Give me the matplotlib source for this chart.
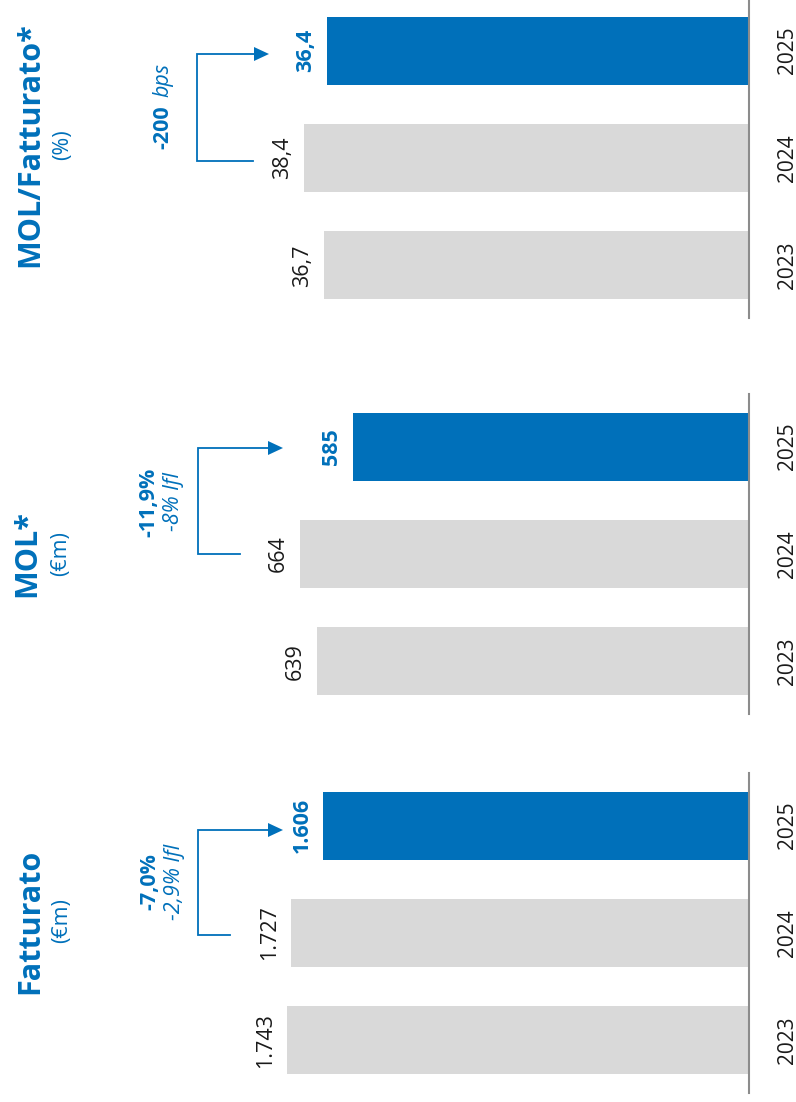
import matplotlib
matplotlib.use('Agg')
import matplotlib.pyplot as plt
import matplotlib.transforms as mtransforms
from matplotlib.lines import Line2D
from matplotlib.patches import Polygon

plt.rcParams['font.family'] = ['Open Sans', 'DejaVu Sans']

# ---- data ----
years = ['2023', '2024', '2025']
fatturato = [1743, 1727, 1606]
fatturato_labels = ['1.743', '1.727', '1.606']
mol = [639, 664, 585]
mol_labels = ['639', '664', '585']
margine = [36.7, 38.4, 36.4]
margine_labels = ['36,7', '38,4', '36,4']

BLUE = '#0070BA'
GRAY = '#D9D9D9'
AXIS = '#8C8C8C'
TXT = '#1A1A1A'

W, H = 796, 1102
fig = plt.figure(figsize=(W / 100, H / 100), dpi=100)


def fx(x):
    return x / W


def fy(y):
    return 1 - y / H


AX_RIGHT = 749
AX_H = 320

panels = [
    dict(values=fatturato, labels=fatturato_labels, top=773, upp=3.7727,
         title='Fatturato', title_x=30, unit='(€m)', unit_x=62, cy=921,
         bracket=dict(x=198, ytop=830, ybot=935, xbot=230, tip=283)),
    dict(values=mol, labels=mol_labels, top=394, upp=1.479,
         title='MOL*', title_x=27, unit='(€m)', unit_x=61, cy=554,
         bracket=dict(x=198, ytop=448, ybot=554, xbot=240, tip=283)),
    dict(values=margine, labels=margine_labels, top=-2, upp=0.0863,
         title='MOL/Fatturato*', title_x=30, unit='(%)', unit_x=63, cy=145,
         bracket=dict(x=197, ytop=54, ybot=161, xbot=253, tip=269)),
]

pos = list(range(len(years)))
for p in panels:
    ax = fig.add_axes([0, fy(p['top'] + AX_H), fx(AX_RIGHT), AX_H / H])
    colors = [GRAY, GRAY, BLUE]
    ax.barh(pos, p['values'], height=0.633, color=colors, zorder=2)
    ax.set_xlim(AX_RIGHT * p['upp'], 0)
    ax.set_ylim(-0.49, 2.49)
    ax.patch.set_visible(False)
    for s in ['left', 'top', 'bottom']:
        ax.spines[s].set_visible(False)
    ax.spines['right'].set_color(AXIS)
    ax.spines['right'].set_linewidth(1.5)
    ax.set_xticks([])
    ax.set_yticks([])
    for i, (v, lbl) in enumerate(zip(p['values'], p['labels'])):
        last = i == len(years) - 1
        ax.annotate(lbl, xy=(v, i), xytext=(-11, 0), textcoords='offset pixels',
                    rotation=90, ha='right', va='center', fontsize=15.5,
                    color=BLUE if last else TXT,
                    fontweight='bold' if last else 'normal')
    trans = mtransforms.blended_transform_factory(fig.transFigure, ax.transData)
    for i, y in enumerate(years):
        ax.text(fx(787), i, y, transform=trans, rotation=90, ha='center',
                va='center', fontsize=15, color=TXT)
    # titles
    fig.text(fx(p['title_x']), fy(p['cy']), p['title'], rotation=90, ha='center',
             va='center', fontsize=22, fontweight='bold', color=BLUE)
    fig.text(fx(p['unit_x']), fy(p['cy']), p['unit'], rotation=90, ha='center',
             va='center', fontsize=15.5, color=BLUE)
    # bracket
    b = p['bracket']
    head = 15
    xs = [b['xbot'], b['x'], b['x'], b['tip'] - head]
    ys = [b['ybot'], b['ybot'], b['ytop'], b['ytop']]
    fig.add_artist(Line2D([fx(x) for x in xs], [fy(y) for y in ys],
                          transform=fig.transFigure, color=BLUE, lw=1.3,
                          solid_joinstyle='miter'))
    tri = [(b['tip'] - head, b['ytop'] - 7), (b['tip'] - head, b['ytop'] + 7),
           (b['tip'], b['ytop'])]
    fig.add_artist(Polygon([(fx(x), fy(y)) for x, y in tri], closed=True,
                           transform=fig.transFigure, color=BLUE, lw=0))

# change annotations
fig.text(fx(149.5), fy(882), '-7,0%', rotation=90, ha='center', va='center',
         fontsize=15.5, fontweight='bold', color=BLUE)
fig.text(fx(174.5), fy(882), '-2,9% lfl', rotation=90, ha='center', va='center',
         fontsize=15.5, fontstyle='italic', color=BLUE)
fig.text(fx(148.5), fy(502), '-11,9%', rotation=90, ha='center', va='center',
         fontsize=15.5, fontweight='bold', color=BLUE)
fig.text(fx(173.5), fy(502), '-8% lfl', rotation=90, ha='center', va='center',
         fontsize=15.5, fontstyle='italic', color=BLUE)
fig.text(fx(163), fy(127), '-200', rotation=90, ha='center', va='center',
         fontsize=15.5, fontweight='bold', color=BLUE)
fig.text(fx(163), fy(80), 'bps', rotation=90, ha='center', va='center',
         fontsize=15.5, fontstyle='italic', color=BLUE)

fig.savefig('out.png', dpi=100)
